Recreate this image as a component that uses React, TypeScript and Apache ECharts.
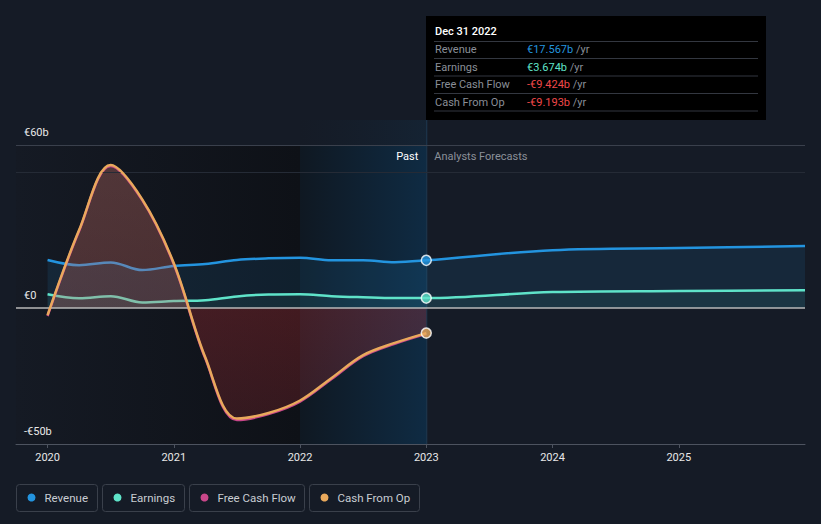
import React, { useEffect, useRef } from "react";
import * as echarts from "echarts";

// ---------- data ----------
const yearTicks = [2020, 2021, 2022, 2023, 2024, 2025];
const valueTicks = [-50, 0, 60];

const revenue: [number, number][] = [
  [2020.0, 17.7], [2020.25, 15.8], [2020.5, 16.8], [2020.75, 14.0],
  [2021.0, 15.5], [2021.25, 16.2], [2021.5, 17.7], [2021.75, 18.3],
  [2022.0, 18.5], [2022.25, 17.6], [2022.5, 17.6], [2022.75, 16.9],
  [2023.0, 17.567], [2024.0, 21.3], [2025.0, 22.1], [2026.0, 22.8],
];
const earnings: [number, number][] = [
  [2020.0, 5.1], [2020.25, 3.6], [2020.5, 4.4], [2020.75, 2.1],
  [2021.0, 2.6], [2021.25, 2.9], [2021.5, 4.3], [2021.75, 5.0],
  [2022.0, 5.1], [2022.25, 4.4], [2022.5, 4.0], [2022.75, 3.7],
  [2023.0, 3.674], [2024.0, 5.9], [2025.0, 6.3], [2026.0, 6.6],
];
const freeCashFlow: [number, number][] = [
  [2020.0, -2.9], [2020.25, 28.4], [2020.5, 52.3], [2020.75, 39.7],
  [2021.0, 16.1], [2021.25, -18.6], [2021.5, -41.2], [2021.75, -39.0],
  [2022.0, -34.4], [2022.25, -26.1], [2022.5, -17.7], [2022.75, -13.1],
  [2023.0, -9.424],
];
const cashFromOp: [number, number][] = [
  [2020.0, -2.6], [2020.25, 28.7], [2020.5, 52.6], [2020.75, 40.0],
  [2021.0, 16.5], [2021.25, -18.2], [2021.5, -40.6], [2021.75, -38.6],
  [2022.0, -34.0], [2022.25, -25.7], [2022.5, -17.3], [2022.75, -12.8],
  [2023.0, -9.193],
];

const tooltipTitle = "Dec 31 2022";
const tooltipLabels = ["Revenue", "Earnings", "Free Cash Flow", "Cash From Op"];
const tooltipValues = ["€17.567b", "€3.674b", "-€9.424b", "-€9.193b"];

const legendLabels = ["Revenue", "Earnings", "Free Cash Flow", "Cash From Op"];

// ---------- styles ----------
const BG = "#151b26";
const C_REV = "#2394df";
const C_EARN = "#5fe3c9";
const C_FCF = "#c9478a";
const C_CFO = "#e9a95c";
const C_NEG = "#f0484a";
const FONT = "Roboto, 'Noto Sans', sans-serif";
const tooltipValueColors = [C_REV, C_EARN, C_NEG, C_NEG];
const legendColors = [C_REV, C_EARN, C_FCF, C_CFO];
const legendWidths = [81, 82, 115, 110];

const fmtVal = (v: number) => (v === 0 ? "€0" : v < 0 ? `-€${-v}b` : `€${v}b`);

export default function App() {
  const ref = useRef<HTMLDivElement>(null);

  useEffect(() => {
    if (!ref.current) return;
    const chart = echarts.init(ref.current, undefined, { renderer: "svg" });

    const lineSeries = (name: string, data: [number, number][], color: string, z: number, extra: any = {}) => ({
      name,
      type: "line",
      data,
      smooth: 0.35,
      symbol: "none",
      z,
      lineStyle: { color, width: 2.5 },
      ...extra,
    });

    const baseOption: any = {
      backgroundColor: BG,
      animation: false,
      grid: { left: 16, right: 16, top: 145, bottom: 80 },
      xAxis: {
        type: "value",
        min: 2019.75,
        max: 2026,
        axisLine: { onZero: false, lineStyle: { color: "#4d535f", width: 1 } },
        axisTick: { show: true, customValues: yearTicks, length: 4, lineStyle: { color: "#4d535f" } },
        axisLabel: {
          customValues: yearTicks,
          color: "#e8e8e8",
          fontSize: 11,
          fontFamily: FONT,
          margin: 8,
          formatter: (v: number) => String(v),
        },
        splitLine: { show: false },
      },
      yAxis: {
        type: "value",
        min: -50,
        max: 60,
        axisLine: { show: false },
        axisTick: { show: false },
        splitLine: { show: false },
        axisLabel: {
          customValues: valueTicks,
          inside: true,
          margin: 8,
          align: "left",
          verticalAlign: "bottom",
          padding: [0, 0, 7, 0],
          color: "#e8e8e8",
          fontSize: 11,
          fontFamily: FONT,
          formatter: (v: number) => fmtVal(v),
        },
      },
      series: [
        lineSeries("Revenue", revenue, C_REV, 2, {
          areaStyle: { color: "rgba(35,148,223,0.16)" },
        }),
        lineSeries("Earnings", earnings, C_EARN, 3, {
          areaStyle: { color: "rgba(95,227,201,0.10)" },
        }),
        lineSeries("Free Cash Flow", freeCashFlow, C_FCF, 4, {
          lineStyle: { color: C_FCF, width: 2.5 },
          areaStyle: { color: "rgba(200,60,60,0.4)" },
        }),
        lineSeries("Cash From Op", cashFromOp, C_CFO, 5, {
          markLine: {
            silent: true,
            symbol: "none",
            label: { show: false },
            data: [
              { yAxis: 0, lineStyle: { color: "#b8b8b8", width: 1.5, type: "solid" } },
              { yAxis: 60, lineStyle: { color: "#3a404c", width: 1, type: "solid" } },
              { yAxis: 50, lineStyle: { color: "#252b36", width: 1, type: "solid" } },
            ],
          },
        }),
        {
          name: "dots",
          type: "scatter",
          z: 6,
          symbolSize: 10,
          data: [
            { value: revenue[12], itemStyle: { color: C_REV } },
            { value: earnings[12], itemStyle: { color: C_EARN } },
            { value: cashFromOp[12], itemStyle: { color: C_CFO } },
          ],
          itemStyle: { borderColor: "#ffffff", borderWidth: 1.5 },
        },
      ],
    };

    chart.setOption(baseOption);

    const px = (x: number, y: number) => chart.convertToPixel({ gridIndex: 0 }, [x, y]) as number[];
    const [xLeft, yTop] = px(2019.75, 60);
    const [, yZero] = px(2019.75, 0);
    const [, yBot] = px(2019.75, -50);
    const [x2022] = px(2022, 0);
    const [x2023] = px(2023, 0);
    const tipBottom = 120;

    const zeroOff = (yZero - yTop) / (yBot - yTop);
    const fcfFill = new echarts.graphic.LinearGradient(
      0, yTop, 0, yBot,
      [
        { offset: 0, color: "rgba(210,120,110,0.47)" },
        { offset: Math.max(0, zeroOff - 0.001), color: "rgba(205,105,95,0.42)" },
        { offset: zeroOff, color: "rgba(200,50,55,0.40)" },
        { offset: 1, color: "rgba(200,50,55,0.26)" },
      ],
      true
    );

    const graphics: any[] = [];
    // dark past background
    graphics.push({
      type: "rect",
      z: -10,
      shape: { x: xLeft, y: yTop, width: x2022 - xLeft, height: yBot - yTop },
      style: {
        fill: new echarts.graphic.LinearGradient(0, 0, 1, 0, [
          { offset: 0, color: "#151a24" },
          { offset: 1, color: "#0e1117" },
        ]),
      },
    });
    // last-year highlight
    graphics.push({
      type: "rect",
      z: -10,
      shape: { x: x2022, y: yTop, width: x2023 - x2022, height: yBot - yTop },
      style: {
        fill: new echarts.graphic.LinearGradient(0, 0, 1, 0, [
          { offset: 0, color: "#0f1822" },
          { offset: 1, color: "#0f2b43" },
        ]),
      },
    });
    graphics.push({
      type: "rect",
      z: -10,
      shape: { x: x2022, y: tipBottom, width: x2023 - x2022, height: yTop - tipBottom },
      style: {
        fill: new echarts.graphic.LinearGradient(0, 0, 1, 0, [
          { offset: 0, color: "rgba(20,40,60,0.0)" },
          { offset: 1, color: "rgba(20,50,75,0.35)" },
        ]),
      },
    });
    graphics.push({
      type: "line",
      z: -9,
      shape: { x1: x2023 + 0.5, y1: tipBottom, x2: x2023 + 0.5, y2: yBot },
      style: { stroke: "#1e3b54", lineWidth: 1 },
    });
    graphics.push({
      type: "text",
      z: 50,
      x: x2023 - 8,
      y: 156,
      style: { text: "Past", fill: "#ffffff", font: `11px ${FONT}`, align: "right", textAlign: "right", verticalAlign: "middle", textVerticalAlign: "middle" },
    });
    graphics.push({
      type: "text",
      z: 50,
      x: x2023 + 8,
      y: 156,
      style: { text: "Analysts Forecasts", fill: "#8b9099", font: `11px ${FONT}`, align: "left", textAlign: "left", verticalAlign: "middle", textVerticalAlign: "middle" },
    });

    // tooltip box
    const tipX = 426;
    const tipY = 16;
    graphics.push({
      type: "rect",
      z: 100,
      shape: { x: tipX, y: tipY, width: 340, height: tipBottom - tipY },
      style: { fill: "#000000" },
    });
    graphics.push({
      type: "text",
      z: 101,
      x: tipX + 9,
      y: 31,
      style: { text: tooltipTitle, fill: "#ffffff", font: `500 11px ${FONT}`, align: "left", textAlign: "left", verticalAlign: "middle", textVerticalAlign: "middle" },
    });
    const sepYs = [41.5, 58.5, 76, 93.5, 111];
    sepYs.forEach((sy) => {
      graphics.push({
        type: "line",
        z: 101,
        shape: { x1: tipX + 8, y1: sy, x2: tipX + 332, y2: sy },
        style: { stroke: "#333740", lineWidth: 1 },
      });
    });
    const rowYs = [49.5, 67, 84.5, 102];
    tooltipLabels.forEach((lab, i) => {
      graphics.push({
        type: "text",
        z: 101,
        x: tipX + 9,
        y: rowYs[i],
        style: { text: lab, fill: "#8a8f98", font: `11px ${FONT}`, align: "left", textAlign: "left", verticalAlign: "middle", textVerticalAlign: "middle" },
      });
      graphics.push({
        type: "text",
        z: 101,
        x: tipX + 101,
        y: rowYs[i],
        style: {
          text: `{v|${tooltipValues[i]}} {u|/yr}`,
          font: `11px ${FONT}`,
          align: "left",
          textAlign: "left",
          verticalAlign: "middle",
          textVerticalAlign: "middle",
          rich: {
            v: { fill: tooltipValueColors[i], font: `11px ${FONT}` },
            u: { fill: "#8a8f98", font: `11px ${FONT}` },
          },
        },
      });
    });

    // legend
    let lx = 16.5;
    legendLabels.forEach((lab, i) => {
      const w = legendWidths[i];
      graphics.push({
        type: "rect",
        z: 50,
        shape: { x: lx, y: 484.5, width: w, height: 27, r: 3 },
        style: { fill: "transparent", stroke: "#3a404b", lineWidth: 1 },
      });
      graphics.push({
        type: "circle",
        z: 51,
        shape: { cx: lx + 15, cy: 497.5, r: 4 },
        style: { fill: legendColors[i] },
      });
      graphics.push({
        type: "text",
        z: 51,
        x: lx + 28,
        y: 498,
        style: { text: lab, fill: "#c9cdd3", font: `11.5px ${FONT}`, align: "left", textAlign: "left", verticalAlign: "middle", textVerticalAlign: "middle" },
      });
      lx += w + 5;
    });

    chart.setOption({
      graphic: { elements: graphics },
      series: [{}, {}, { areaStyle: { color: fcfFill } }, {}, {}],
    });

    return () => chart.dispose();
  }, []);

  return (
    <div
      ref={ref}
      style={{ position: "fixed", left: 0, top: 0, width: 821, height: 524 }}
    />
  );
}
